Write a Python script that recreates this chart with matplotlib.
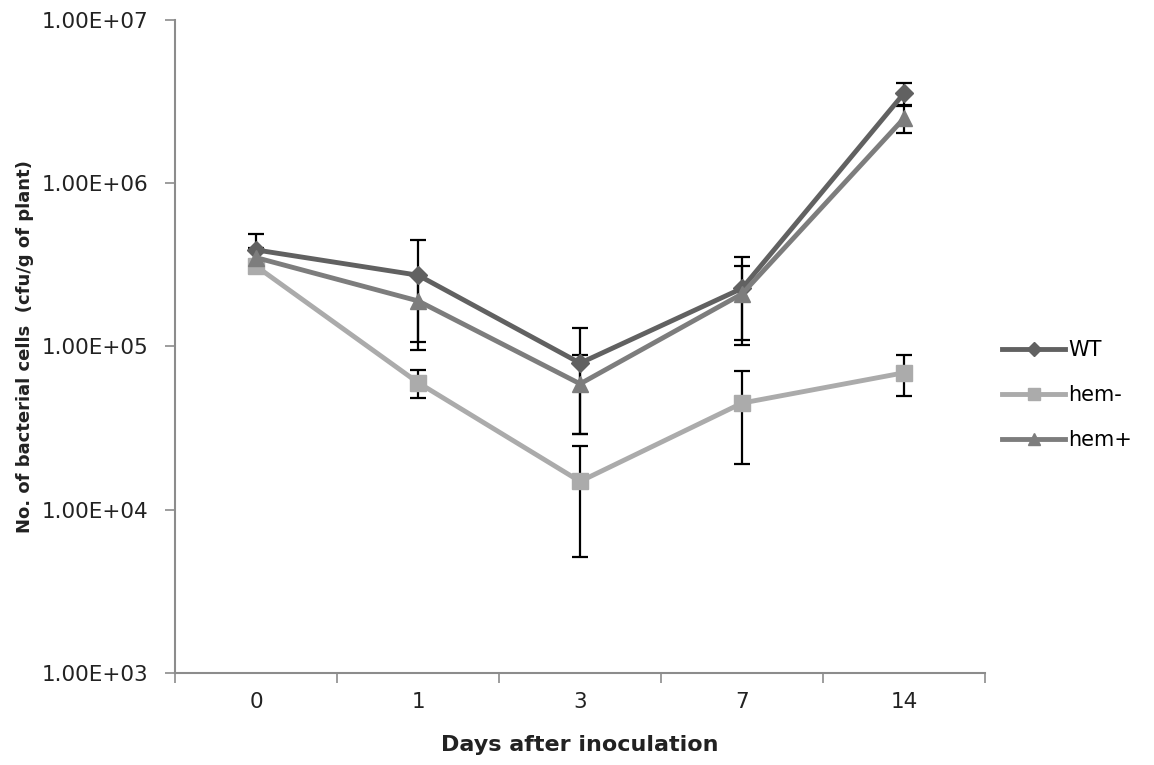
import numpy as np
import matplotlib.pyplot as plt
from matplotlib.ticker import FixedLocator, NullFormatter, NullLocator

# days after inoculation (categorical axis)
days = ["0", "1", "3", "7", "14"]

# cfu / g of plant
wt_mean = [3.9e5, 2.73e5, 7.9e4, 2.27e5, 3.56e6]
wt_err = [1.0e5, 1.78e5, 5.0e4, 1.25e5, 5.5e5]

hem_minus_mean = [3.1e5, 6.0e4, 1.49e4, 4.5e4, 6.9e4]
hem_minus_err = [2.0e4, 1.15e4, 9.8e3, 2.6e4, 1.95e4]

hem_plus_mean = [3.5e5, 1.9e5, 5.9e4, 2.1e5, 2.5e6]
hem_plus_err = [5.0e4, 8.3e4, 3.0e4, 1.0e5, 4.7e5]

series = [
    ("WT", wt_mean, wt_err, "#616161", "D", 9),
    ("hem-", hem_minus_mean, hem_minus_err, "#ababab", "s", 11),
    ("hem+", hem_plus_mean, hem_plus_err, "#7d7d7d", "^", 11),
]


def main():
    fig = plt.figure(figsize=(11.54, 7.65), dpi=100)
    ax = fig.add_axes([0.1517, 0.1203, 0.702, 0.8537])
    x = np.arange(len(days))

    for name, mean, err, color, marker, ms in series:
        ax.errorbar(x, mean, yerr=err, fmt="none", ecolor="black",
                    elinewidth=1.6, capsize=6, capthick=1.6, zorder=2)
    for name, mean, err, color, marker, ms in series:
        ax.plot(x, mean, color=color, linewidth=3.5, marker=marker,
                markersize=ms, markeredgecolor=color, label=name, zorder=3)

    ax.set_yscale("log")
    ax.set_ylim(1e3, 1e7)
    ax.set_xlim(-0.5, len(days) - 0.5)
    ax.yaxis.set_major_locator(FixedLocator([1e3, 1e4, 1e5, 1e6, 1e7]))
    ax.yaxis.set_minor_locator(NullLocator())
    ax.set_yticklabels(["1.00E+03", "1.00E+04", "1.00E+05", "1.00E+06", "1.00E+07"])

    # excel style: tick marks between categories, labels at centres
    ax.xaxis.set_major_locator(FixedLocator(np.arange(-0.5, len(days), 1.0)))
    ax.xaxis.set_major_formatter(NullFormatter())
    ax.set_xticks(x, minor=True)
    ax.set_xticklabels(days, minor=True)
    ax.tick_params(axis="x", which="major", length=7, width=1.2, color="#8c8c8c")
    ax.tick_params(axis="x", which="minor", length=0, pad=14, labelsize=15.5,
                   labelcolor="#222222")
    ax.tick_params(axis="y", which="major", length=7, width=1.2, color="#8c8c8c",
                   labelsize=15.5, pad=12, labelcolor="#222222")

    for side in ["top", "right"]:
        ax.spines[side].set_visible(False)
    for side in ["left", "bottom"]:
        ax.spines[side].set_color("#8c8c8c")
        ax.spines[side].set_linewidth(1.5)

    ax.set_xlabel("Days after inoculation", fontsize=16, fontweight="bold",
                  labelpad=16, color="#222222")
    ax.set_ylabel("No. of bacterial cells  (cfu/g of plant)", fontsize=13,
                  fontweight="bold", labelpad=6, color="#222222")

    ax.legend(loc="center left", bbox_to_anchor=(0.998, 0.425), frameon=False,
              fontsize=15, handlelength=3.0, labelspacing=1.2,
              handletextpad=0.15, markerscale=0.8)

    fig.savefig("out.png", dpi=100)


if __name__ == "__main__":
    main()
